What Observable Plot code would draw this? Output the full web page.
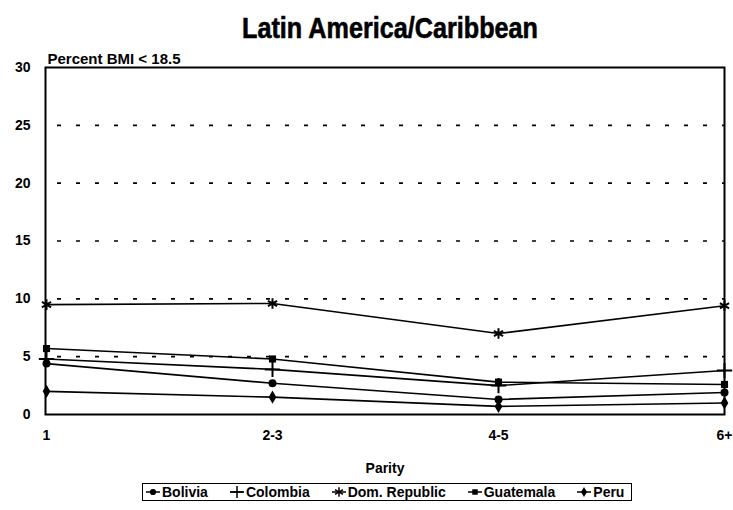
<!DOCTYPE html>
<html>
<head>
<meta charset="utf-8">
<script src="https://cdn.jsdelivr.net/npm/d3@7"></script>
<script src="https://cdn.jsdelivr.net/npm/@observablehq/plot@0.6"></script>
<style>
  body { margin: 0; background: #fff; font-family: "Liberation Sans", Arial, sans-serif; }
  #wrap { position: relative; width: 733px; height: 510px; overflow: hidden; }
  #title { position: absolute; left: 90px; top: 11px; width: 600px; text-align: center;
           font-family: "Liberation Sans", Arial, sans-serif; font-weight: bold; font-size: 30px; line-height: 34px; color: #000;
           -webkit-text-stroke: 0.6px #000;
           transform: scaleX(0.84); transform-origin: center; }
  #chart { position: absolute; left: 0; top: 45px; }
  #legend { position: absolute; left: 142px; top: 483px; width: 488px; height: 16px; border: 1.5px solid #000; display: flex; align-items: center;
            font-family: "Liberation Sans", Arial, sans-serif; font-weight: bold; font-size: 14px; color: #000; white-space: nowrap; }
  #legend .item { display: flex; align-items: center; margin-left: 2px; margin-right: 19px; }
  #legend svg { margin-right: 1px; }
</style>
</head>
<body>
<div id="wrap">
  <div id="title">Latin America/Caribbean</div>
  <div id="chart"></div>
  <div id="legend"></div>
</div>
<script>
const parity = ["1", "2-3", "4-5", "6+"];
const seriesNames = ["Bolivia", "Colombia", "Dom. Republic", "Guatemala", "Peru"];
const bolivia = [4.4, 2.7, 1.3, 1.9];
const colombia = [4.8, 3.9, 2.5, 3.8];
const domRepublic = [9.5, 9.6, 7.0, 9.4];
const guatemala = [5.7, 4.8, 2.8, 2.6];
const peru = [2.0, 1.5, 0.7, 1.0];
const yTicks = [0, 5, 10, 15, 20, 25, 30];
const gridValues = [5, 10, 15, 20, 25];
const symbols = ["circle", "plus", "asterisk", "square", "diamond"];

const valuesBySeries = [bolivia, colombia, domRepublic, guatemala, peru];
const rows = [];
seriesNames.forEach((s, i) => parity.forEach((p, j) => rows.push({series: s, parity: p, value: valuesBySeries[i][j], symbol: symbols[i]})));

const strokeSymbols = new Set(["plus", "asterisk"]);

const chart = Plot.plot({
  width: 733,
  height: 440,
  marginLeft: 45,
  marginRight: 9,
  marginTop: 22,
  marginBottom: 71,
  style: {fontFamily: "Liberation Sans, Arial, sans-serif", fontWeight: "bold", fontSize: "14px", color: "#000", background: "transparent"},
  x: {type: "point", domain: parity, padding: 0, label: null},
  y: {domain: [0, 30], label: null},
  symbol: {domain: symbols, range: symbols},
  marks: [
    Plot.ruleY(gridValues, {stroke: "#000", strokeWidth: 1.6, strokeDasharray: "4,15", strokeDashoffset: -12}),
    Plot.frame({stroke: "#000", strokeWidth: 2}),
    Plot.axisY({ticks: yTicks, tickSize: 0, tickPadding: 15, fontWeight: "bold", fontSize: 14, label: null}),
    Plot.axisX({tickSize: 0, tickPadding: 16, fontWeight: "bold", fontSize: 14, label: null}),
    Plot.line(rows, {x: "parity", y: "value", z: "series", stroke: "#000", strokeWidth: 1.6}),
    Plot.dot(rows.filter(d => !strokeSymbols.has(d.symbol)), {x: "parity", y: "value", symbol: "symbol", fill: "#000", r: 4}),
    Plot.dot(rows.filter(d => strokeSymbols.has(d.symbol)), {x: "parity", y: "value", symbol: "symbol", stroke: "#000", strokeWidth: 2, r: 5}),
    Plot.text(["Percent BMI < 18.5"], {frameAnchor: "top-left", textAnchor: "start", dx: 2, dy: -14, fontWeight: "bold", fontSize: 15}),
    Plot.text(["Parity"], {frameAnchor: "bottom", dy: 58, fontWeight: "bold", fontSize: 14})
  ]
});
document.getElementById("chart").appendChild(chart);

// legend
const legend = document.getElementById("legend");
seriesNames.forEach((name, i) => {
  const item = document.createElement("div");
  item.className = "item";
  const sym = symbols[i];
  const s = d3.create("svg").attr("width", 16).attr("height", 12);
  s.append("line").attr("x1", 1).attr("x2", 15).attr("y1", 6).attr("y2", 6).attr("stroke", "#000").attr("stroke-width", 1.5);
  const symMap = {circle: d3.symbolCircle, plus: d3.symbolPlus, asterisk: d3.symbolAsterisk, square: d3.symbolSquare, diamond: d3.symbolDiamond};
  const path = d3.symbol(symMap[sym], strokeSymbols.has(sym) ? 60 : 30)();
  const p = s.append("path").attr("d", path).attr("transform", "translate(8,6)");
  if (strokeSymbols.has(sym)) p.attr("fill", "none").attr("stroke", "#000").attr("stroke-width", 1.5);
  else p.attr("fill", "#000");
  item.appendChild(s.node());
  const t = document.createElement("span");
  t.textContent = name;
  item.appendChild(t);
  legend.appendChild(item);
});
</script>
</body>
</html>
